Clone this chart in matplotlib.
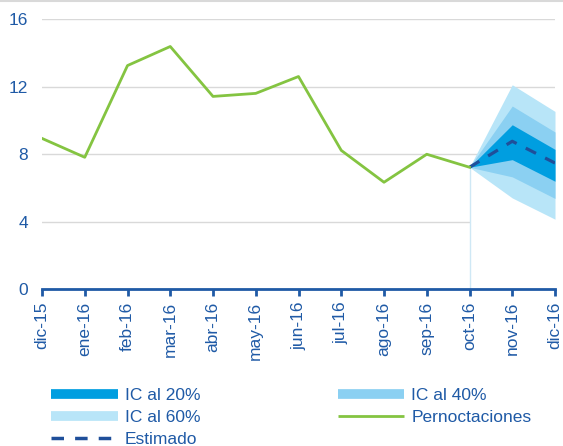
import matplotlib.pyplot as plt
from matplotlib.lines import Line2D
import numpy as np

plt.rcParams["font.family"] = ["Liberation Sans", "DejaVu Sans"]

months = ["dic-15", "ene-16", "feb-16", "mar-16", "abr-16", "may-16", "jun-16",
          "jul-16", "ago-16", "sep-16", "oct-16", "nov-16", "dic-16"]
pernoct = [8.93, 7.81, 13.25, 14.38, 11.42, 11.6, 12.6, 8.22, 6.33, 7.99, 7.22]

# forecast from oct-16 onwards
estimado = [7.22, 8.76, 7.47]
ic20_lo = [7.22, 7.67, 6.39]; ic20_hi = [7.22, 9.74, 8.28]
ic40_lo = [7.22, 6.65, 5.37]; ic40_hi = [7.22, 10.85, 9.31]
ic60_lo = [7.22, 5.40, 4.14]; ic60_hi = [7.22, 12.11, 10.53]

BLUE_TXT = "#1f5aa6"
C20, C40, C60 = "#009ee0", "#8bd0f2", "#b8e5f8"
GREEN = "#84c441"
DASH = "#1f4f9a"
DASHES = (0, (3.6, 3.2))

fig = plt.figure(figsize=(5.63, 4.46), dpi=100)
ax = fig.add_axes([0.0746, 0.352, 0.9112, 0.605])
fig.add_artist(Line2D([0, 1], [0.998, 0.998], transform=fig.transFigure,
                      color="#d9d9d9", lw=1.5))

xf = np.arange(10, 13)
# white base under the fan hides the grid there
ax.fill_between(xf, 0, ic60_lo, color="white", lw=0, zorder=1.5)
ax.fill_between(xf, ic60_lo, ic60_hi, color=C60, lw=0, zorder=2)
ax.fill_between(xf, ic40_lo, ic40_hi, color=C40, lw=0, zorder=3)
ax.fill_between(xf, ic20_lo, ic20_hi, color=C20, lw=0, zorder=4)
ax.plot(xf, estimado, ls=DASHES, color=DASH, lw=2.3, zorder=5)
ax.plot(range(len(pernoct)), pernoct, color=GREEN, lw=2, zorder=6)
ax.plot([10, 10], [0, pernoct[-1]], color="#cfe8f5", lw=1, zorder=1.6)

ax.set_xlim(0, 12); ax.set_ylim(0, 16)
ax.set_yticks([0, 4, 8, 12, 16])
ax.set_xticks(range(len(months)))
ax.set_xticklabels(months, rotation=90)
ax.grid(axis="y", color="#d9d9d9", lw=1, zorder=0)
ax.set_axisbelow(True)
for s in ["left", "right", "top"]:
    ax.spines[s].set_visible(False)
ax.spines["bottom"].set_color("#1f5aa6"); ax.spines["bottom"].set_linewidth(2)
ax.spines["bottom"].set_zorder(7)
ax.tick_params(axis="x", colors=BLUE_TXT, length=5, width=2, labelsize=12.5, pad=4)
ax.tick_params(axis="y", colors=BLUE_TXT, length=0, labelsize=12.5, pad=10)

handles = [
    Line2D([], [], color=C20, lw=7, solid_capstyle="butt"),
    Line2D([], [], color=C60, lw=7, solid_capstyle="butt"),
    Line2D([], [], color=DASH, lw=2.5, ls=DASHES),
    Line2D([], [], color=C40, lw=7, solid_capstyle="butt"),
    Line2D([], [], color=GREEN, lw=2, solid_capstyle="butt"),
]
labels = ["IC al 20%", "IC al 60%", "Estimado", "IC al 40%", "Pernoctaciones"]
fig.legend(handles, labels, ncol=2, loc="lower left", bbox_to_anchor=(0.063, -0.038),
           frameon=False, fontsize=12.5, handlelength=3.85, labelcolor=BLUE_TXT,
           columnspacing=7.9, labelspacing=0.39, handletextpad=0.4)

fig.savefig("out.png", dpi=100)
